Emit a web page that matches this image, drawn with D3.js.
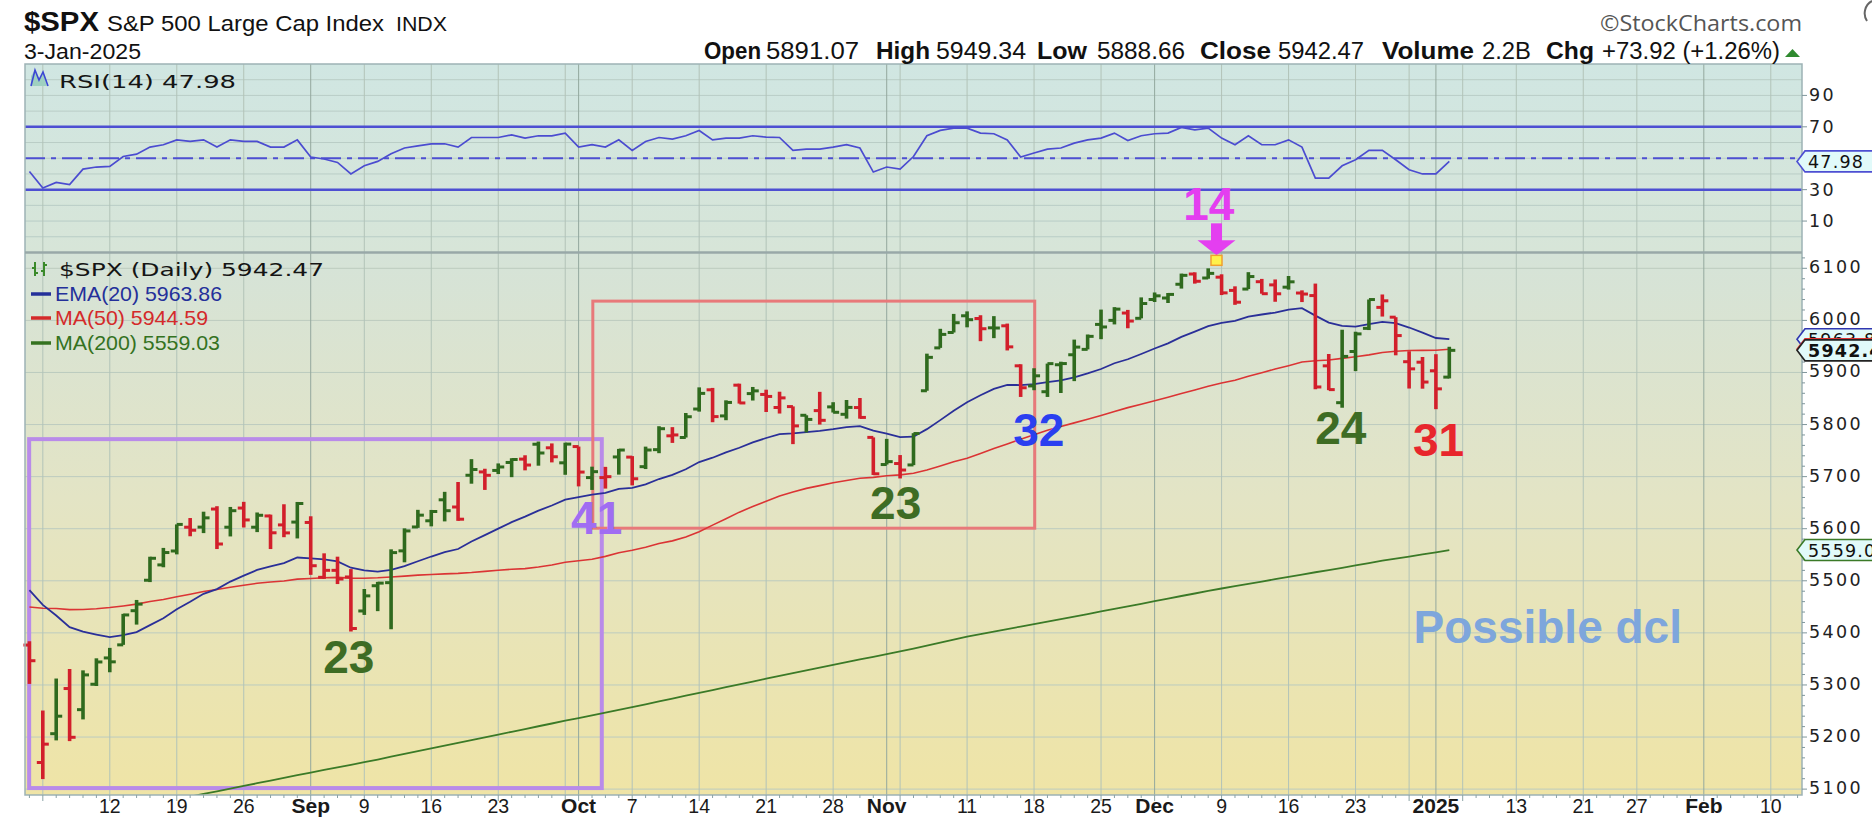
<!DOCTYPE html>
<html>
<head>
<meta charset="utf-8">
<script src="https://cdn.jsdelivr.net/npm/d3@7"></script>
<style>
  body { margin: 0; background: #fff; }
  svg { display: block; }
</style>
</head>
<body>
<svg id="chart" width="1872" height="819"></svg>
<script>
// trading days shown on the axis (bars up to 3-Jan-2025, the rest is empty future space)
var dates = [
  "2024-08-02","2024-08-05","2024-08-06","2024-08-07","2024-08-08","2024-08-09","2024-08-12","2024-08-13","2024-08-14","2024-08-15","2024-08-16",
  "2024-08-19","2024-08-20","2024-08-21","2024-08-22","2024-08-23","2024-08-26","2024-08-27","2024-08-28","2024-08-29","2024-08-30",
  "2024-09-03","2024-09-04","2024-09-05","2024-09-06","2024-09-09","2024-09-10","2024-09-11","2024-09-12","2024-09-13","2024-09-16",
  "2024-09-17","2024-09-18","2024-09-19","2024-09-20","2024-09-23","2024-09-24","2024-09-25","2024-09-26","2024-09-27","2024-09-30",
  "2024-10-01","2024-10-02","2024-10-03","2024-10-04","2024-10-07","2024-10-08","2024-10-09","2024-10-10","2024-10-11","2024-10-14",
  "2024-10-15","2024-10-16","2024-10-17","2024-10-18","2024-10-21","2024-10-22","2024-10-23","2024-10-24","2024-10-25","2024-10-28",
  "2024-10-29","2024-10-30","2024-10-31","2024-11-01","2024-11-04","2024-11-05","2024-11-06","2024-11-07","2024-11-08","2024-11-11",
  "2024-11-12","2024-11-13","2024-11-14","2024-11-15","2024-11-18","2024-11-19","2024-11-20","2024-11-21","2024-11-22","2024-11-25",
  "2024-11-26","2024-11-27","2024-11-29","2024-12-02","2024-12-03","2024-12-04","2024-12-05","2024-12-06","2024-12-09","2024-12-10",
  "2024-12-11","2024-12-12","2024-12-13","2024-12-16","2024-12-17","2024-12-18","2024-12-19","2024-12-20","2024-12-23","2024-12-24",
  "2024-12-26","2024-12-27","2024-12-30","2024-12-31","2025-01-02","2025-01-03",
  "2025-01-06","2025-01-07","2025-01-08","2025-01-10","2025-01-13","2025-01-14","2025-01-15","2025-01-16","2025-01-17","2025-01-21",
  "2025-01-22","2025-01-23","2025-01-24","2025-01-27","2025-01-28","2025-01-29","2025-01-30","2025-01-31","2025-02-03","2025-02-04",
  "2025-02-05","2025-02-06","2025-02-07","2025-02-10","2025-02-11","2025-02-12"];

var open = [
  5376.63,5151.14,5206.42,5293.13,5252.57,5301.36,5351.88,5376.98,5442.59,5501.07,5530.50,5557.23,5602.88,5603.09,5637.77,5602.89,5639.66,5602.89,5624.51,5607.30,5612.74,
  5612.00,5506.68,5520.08,5507.33,5442.07,5490.51,5496.42,5557.48,5603.34,5615.21,5655.51,5641.68,5702.63,5709.04,5711.90,5727.20,5733.65,5762.22,5755.36,5726.52,
  5757.73,5698.19,5698.19,5737.80,5737.50,5719.14,5751.80,5778.36,5775.09,5829.81,5866.74,5816.58,5875.62,5859.43,5857.82,5832.70,5834.50,5817.80,5826.75,5833.93,5819.68,5832.65,5775.34,
  5723.22,5725.15,5722.43,5864.89,5947.21,5976.76,6008.86,6003.60,5985.75,5989.60,5912.79,5874.17,5863.04,5914.83,5934.01,5944.36,5992.28,6000.03,6014.11,6003.98,
  6040.11,6042.97,6069.39,6089.03,6081.38,6083.01,6057.59,6060.15,6074.29,6068.17,6063.79,6052.55,6047.65,5912.71,5842.00,5940.25,5984.73,6024.97,6006.17,5920.67,5919.74,
  5903.26,5891.07];
var high = [
  5383.89,5250.89,5312.34,5330.64,5328.03,5351.15,5371.20,5436.50,5463.22,5546.23,5563.15,5608.30,5620.51,5632.68,5643.22,5641.82,5651.62,5631.18,5627.03,5646.95,5651.37,
  5623.89,5552.74,5546.30,5522.47,5484.20,5497.91,5560.41,5600.71,5636.27,5636.05,5670.81,5689.75,5733.57,5715.14,5725.36,5735.32,5741.03,5767.37,5763.78,5765.14,
  5757.73,5719.14,5718.78,5753.21,5739.40,5757.60,5796.80,5795.03,5822.13,5871.41,5870.36,5846.52,5878.46,5872.17,5866.92,5863.04,5834.85,5817.80,5862.82,5842.92,5847.19,5850.94,5775.34,
  5772.52,5741.43,5783.44,5936.14,5983.84,6012.45,6017.31,6009.92,6008.19,5993.88,5915.79,5908.12,5917.04,5920.67,5963.11,5972.90,6020.75,6025.42,6020.16,6044.17,
  6053.58,6052.64,6089.84,6092.27,6099.97,6088.51,6065.40,6092.59,6079.68,6078.58,6085.19,6057.68,6070.67,5935.52,5982.06,5978.25,6040.10,6049.75,6006.17,5940.79,5929.74,
  5935.09,5949.34];
var low = [
  5302.03,5119.26,5193.56,5192.16,5233.85,5297.94,5324.37,5376.98,5415.89,5497.51,5525.96,5550.74,5585.50,5591.57,5560.95,5585.16,5602.34,5593.48,5560.95,5583.71,5581.33,
  5511.39,5503.66,5493.74,5402.62,5434.49,5441.72,5406.96,5535.50,5601.65,5604.53,5614.05,5615.08,5686.42,5674.49,5704.94,5698.99,5712.06,5721.01,5727.34,5703.53,
  5681.28,5674.44,5677.04,5703.87,5683.20,5714.56,5745.02,5764.76,5775.09,5824.80,5804.48,5808.34,5840.25,5846.11,5824.08,5821.17,5762.41,5784.92,5799.98,5823.08,5811.39,5811.28,5703.22,
  5723.22,5696.51,5722.10,5864.89,5947.21,5976.76,5986.69,5960.08,5965.91,5942.28,5853.01,5865.95,5853.01,5860.58,5883.37,5944.36,5963.91,5992.27,5984.87,6003.98,
  6035.33,6033.39,6061.06,6070.59,6079.98,6048.63,6029.89,6060.15,6051.25,6035.77,6059.14,6035.19,5867.79,5866.07,5832.30,5902.57,5981.44,6007.37,5932.95,5869.16,5868.86,
  5829.53,5888.66];
var close = [
  5346.56,5186.33,5240.03,5199.50,5319.31,5344.16,5344.39,5434.43,5455.21,5543.22,5554.25,5608.25,5597.12,5620.85,5570.64,5634.61,5616.84,5625.80,5592.18,5591.96,5648.40,
  5528.93,5520.07,5503.41,5408.42,5471.05,5495.52,5554.13,5595.76,5626.02,5633.09,5634.58,5618.26,5713.64,5702.55,5718.57,5732.93,5722.26,5745.37,5738.17,5762.48,
  5708.75,5709.54,5699.94,5751.07,5695.94,5751.13,5792.04,5780.05,5815.03,5859.85,5815.26,5842.47,5841.47,5864.67,5853.98,5851.20,5797.42,5809.86,5808.12,5823.52,5832.92,5813.67,5705.45,
  5728.80,5712.69,5782.76,5929.04,5973.10,5995.54,6001.35,5983.99,5985.38,5949.17,5870.62,5893.62,5916.98,5917.11,5948.71,5969.34,5987.37,6021.63,5998.74,6032.38,
  6047.15,6049.88,6086.49,6075.11,6090.27,6052.85,6034.91,6084.19,6051.25,6051.09,6074.08,6050.61,5872.16,5867.08,5930.85,5974.07,6040.04,6037.59,5970.84,5906.94,5881.63,
  5868.55,5942.47];
var prevClose = 5446.68; // 1-Aug, colours the first bar

var ema20 = [
  5482.0,5453.8,5433.4,5411.1,5402.3,5396.8,5391.8,5395.8,5401.4,5414.9,5428.1,5445.2,5459.7,5475.0,5484.1,5498.5,5509.8,5520.9,5527.7,5533.8,5544.7,
  5543.2,5541.0,5537.4,5525.1,5519.9,5517.6,5521.1,5528.2,5537.5,5546.6,5555.0,5561.0,5575.5,5587.6,5600.1,5612.7,5623.1,5634.7,5644.5,5655.7,
  5660.8,5665.5,5668.8,5676.6,5678.4,5685.3,5695.4,5703.5,5714.1,5728.0,5736.3,5746.4,5755.4,5765.8,5774.2,5781.5,5783.0,5785.6,5787.7,5791.1,5795.1,5796.9,5788.2,
  5782.6,5776.0,5776.7,5791.2,5808.5,5826.3,5842.9,5856.3,5868.6,5876.3,5875.8,5877.5,5881.3,5884.7,5890.8,5898.2,5906.7,5917.7,5925.4,5935.5,
  5946.1,5956.0,5968.4,5978.5,5989.1,5995.2,5999.0,6007.1,6011.3,6015.1,6020.7,6023.6,6009.2,5995.7,5989.5,5988.0,5992.9,5997.2,5994.7,5986.3,5976.4,
  5966.2,5963.86];
var ma50 = [
  5449.7,5447.2,5446.7,5444.6,5444.9,5446.4,5448.6,5451.7,5455.2,5460.2,5464.2,5469.3,5474.3,5479.5,5483.4,5487.7,5491.3,5495.2,5497.6,5499.7,5503.2,
  5504.5,5505.9,5506.6,5505.2,5505.0,5505.7,5507.3,5509.0,5510.8,5512.1,5513.3,5514.2,5515.8,5518.1,5520.2,5522.2,5523.3,5526.4,5530.3,5535.5,
  5538.4,5541.4,5546.9,5553.9,5558.7,5564.4,5571.5,5576.7,5584.1,5594.3,5606.9,5619.0,5631.8,5642.7,5652.9,5663.0,5670.3,5677.4,5682.7,5688.1,5692.6,5696.9,5698.6,
  5701.8,5703.3,5706.6,5712.7,5720.3,5728.4,5735.4,5744.5,5753.9,5762.8,5772.0,5780.5,5788.9,5796.2,5803.2,5810.1,5817.2,5824.9,5832.5,5838.9,
  5845.8,5852.4,5859.5,5866.5,5873.4,5879.7,5885.2,5892.7,5899.5,5906.5,5913.0,5920.1,5922.5,5924.0,5927.0,5930.2,5933.8,5938.3,5940.8,5942.1,5942.5,
  5942.8,5944.59];
var ma200 = [
  5023.0,5027.9,5033.2,5038.3,5043.8,5049.0,5054.1,5059.5,5064.6,5069.9,5075.0,5080.4,5085.6,5090.7,5095.6,5100.9,5106.1,5111.3,5116.4,5121.5,5126.9,
  5131.8,5136.8,5141.8,5146.5,5151.6,5156.8,5162.2,5167.6,5172.9,5178.2,5183.5,5188.6,5194.0,5199.4,5204.8,5210.1,5215.3,5220.7,5226.0,5231.4,
  5236.5,5241.7,5246.9,5252.3,5257.4,5262.8,5268.4,5273.8,5279.3,5284.9,5290.2,5295.7,5301.1,5306.6,5312.0,5317.4,5322.5,5327.8,5333.1,5338.5,5343.9,5349.2,5354.1,
  5359.3,5364.4,5369.8,5375.6,5381.4,5387.1,5392.6,5397.7,5402.6,5407.4,5412.0,5416.8,5421.6,5426.4,5431.3,5436.2,5441.1,5446.1,5450.9,5455.9,
  5460.9,5465.8,5470.8,5475.6,5480.5,5485.2,5489.6,5494.2,5498.6,5503.0,5507.6,5512.0,5516.4,5520.6,5525.0,5529.5,5534.1,5538.6,5542.6,5546.6,5550.6,
  5554.7,5559.03];
var rsi14 = [
  41.6,31.1,34.6,33.2,43.1,44.4,44.8,51.1,52.6,57.1,58.6,61.7,60.7,61.7,57.1,61.7,60.7,60.7,57.1,57.1,61.7,
  50.8,49.5,47.3,40.0,45.2,48.0,52.9,56.5,57.9,59.2,59.2,57.1,63.2,63.2,63.2,64.9,62.8,64.3,64.3,66.0,
  57.1,58.6,57.1,61.7,55.0,60.7,63.2,62.2,64.3,67.7,61.7,62.8,62.8,64.3,63.4,63.2,55.0,55.8,55.8,57.1,58.6,56.5,41.2,
  44.4,43.1,51.1,64.3,67.7,69.2,69.2,66.0,65.6,61.7,50.8,53.3,55.8,56.5,59.6,61.7,62.8,66.0,61.3,64.3,
  65.6,66.0,69.6,68.1,69.2,62.8,58.6,64.3,58.6,58.6,61.7,57.1,37.4,37.4,45.2,49.0,55.0,55.0,49.0,42.7,40.0,
  40.0,47.98];

// axis ticks and labels
var gridDates = ["2024-08-05","2024-08-12","2024-08-19","2024-08-26","2024-09-03","2024-09-09","2024-09-16","2024-09-23","2024-09-30",
  "2024-10-01","2024-10-07","2024-10-14","2024-10-21","2024-10-28","2024-11-01","2024-11-04","2024-11-11","2024-11-18","2024-11-25",
  "2024-12-02","2024-12-09","2024-12-16","2024-12-23","2024-12-30","2025-01-02","2025-01-06","2025-01-13","2025-01-21","2025-01-27",
  "2025-02-03","2025-02-10"];
var monthDates = ["2024-09-03","2024-10-01","2024-11-01","2024-12-02","2025-01-02","2025-02-03"];
var labelDates = ["2024-08-12","2024-08-19","2024-08-26","2024-09-03","2024-09-09","2024-09-16","2024-09-23","2024-10-01","2024-10-07",
  "2024-10-14","2024-10-21","2024-10-28","2024-11-01","2024-11-11","2024-11-18","2024-11-25","2024-12-02","2024-12-09","2024-12-16",
  "2024-12-23","2025-01-02","2025-01-13","2025-01-21","2025-01-27","2025-02-03","2025-02-10"];
var labelText = ["12","19","26","Sep","9","16","23","Oct","7","14","21","28","Nov","11","18","25","Dec","9","16","23","2025","13","21","27","Feb","10"];
var boldLabels = ["Sep","Oct","Nov","Dec","2025","Feb"];
var priceTicks = [5100,5200,5300,5400,5500,5600,5700,5800,5900,6000,6100];
var rsiTicks = [10,30,70,90];
var rsiGrid = [0,10,20,30,40,50,60,70,80,90,100];

// header
var symbol = "$SPX", symbolName = "S&P 500 Large Cap Index", exchange = "INDX", quoteDate = "3-Jan-2025";
var quoteLabels = ["Open","High","Low","Close","Volume","Chg"];
var quoteValues = ["5891.07","5949.34","5888.66","5942.47","2.2B","+73.92 (+1.26%)"];

// hand drawn notes on the chart
var noteText  = ["41","23","23","32","24","31","14"];
var noteDay   = [42.35,23.84,64.67,75.35,97.9,105.2,88.05];
var notePrice = [5590,5322,5619,5759,5762,5739,6193];
var noteColor = ["#a06df2","#3e6c24","#3e6c24","#2a3ff0","#3e6c24","#e8262c","#e43ef0"];

var W = 1872, L = 25, R = 1802;
var rsiTop = 64, rsiBot = 252, pTop = 253, pBot = 795;
var green = "#2f6a1e", red = "#d21f2b";
var last = close.length - 1;

var svg = d3.select("#chart");

var x = d3.scalePoint().domain(dates).range([L, R]).padding(0.33);
var xi = function(i) { return x(dates[0]) + i * x.step(); };
var y = d3.scaleLinear().domain([5088.7, 6129.4]).range([pBot, pTop]);
var yr = d3.scaleLinear().domain([-9.7, 110]).range([rsiBot, rsiTop]);

// backgrounds
var defs = svg.append("defs");
var g1 = defs.append("linearGradient").attr("id", "rsiBg").attr("x1", 0).attr("y1", 0).attr("x2", 0).attr("y2", 1);
g1.append("stop").attr("offset", "0%").attr("stop-color", "#d0e6e2");
g1.append("stop").attr("offset", "100%").attr("stop-color", "#d7e5d8");
var g2 = defs.append("linearGradient").attr("id", "priceBg").attr("x1", 0).attr("y1", 0).attr("x2", 0).attr("y2", 1);
g2.append("stop").attr("offset", "0%").attr("stop-color", "#d5e3d8");
g2.append("stop").attr("offset", "45%").attr("stop-color", "#e3e4c5");
g2.append("stop").attr("offset", "100%").attr("stop-color", "#efe4a6");

svg.append("rect").attr("x", L).attr("y", rsiTop).attr("width", R - L).attr("height", rsiBot - rsiTop).attr("fill", "url(#rsiBg)");
svg.append("rect").attr("x", L).attr("y", pTop).attr("width", R - L).attr("height", pBot - pTop).attr("fill", "url(#priceBg)");

// grid
var grid = svg.append("g").attr("fill", "none");
grid.selectAll("line.rg").data(rsiGrid).join("line").attr("class", "rg")
  .attr("x1", L).attr("x2", R).attr("y1", function(d) { return yr(d); }).attr("y2", function(d) { return yr(d); })
  .attr("stroke", "#b9cdc6").attr("stroke-width", 1);
grid.selectAll("line.pg").data(priceTicks).join("line").attr("class", "pg")
  .attr("x1", L).attr("x2", R).attr("y1", function(d) { return y(d); }).attr("y2", function(d) { return y(d); })
  .attr("stroke", "#bccbbf").attr("stroke-width", 1);
grid.selectAll("line.vg").data(gridDates).join("line").attr("class", "vg")
  .attr("x1", function(d) { return x(d); }).attr("x2", function(d) { return x(d); })
  .attr("y1", rsiTop).attr("y2", pBot)
  .attr("stroke", function(d) { return monthDates.indexOf(d) >= 0 ? "#93a89e" : "#b2c3b8"; })
  .attr("stroke-width", 1);

// RSI panel
var rsiG = svg.append("g");
[70, 30].forEach(function(v) {
  rsiG.append("line").attr("x1", L).attr("x2", R).attr("y1", yr(v)).attr("y2", yr(v))
    .attr("stroke", "#4d4fd2").attr("stroke-width", 2.5);
});
rsiG.append("line").attr("x1", L).attr("x2", R).attr("y1", yr(50)).attr("y2", yr(50))
  .attr("stroke", "#4d4fd2").attr("stroke-width", 2).attr("stroke-dasharray", "20,6,5,6");
rsiG.append("path").datum(rsi14)
  .attr("d", d3.line().x(function(d, i) { return x(dates[i]); }).y(function(d) { return yr(d); }))
  .attr("fill", "none").attr("stroke", "#4b4cd0").attr("stroke-width", 1.7);

// boxes drawn by hand
var boxes = svg.append("g").attr("fill", "none");
boxes.append("rect").attr("x", xi(-0.02)).attr("y", y(5772)).attr("width", xi(42.73) - xi(-0.02)).attr("height", y(5102) - y(5772))
  .attr("stroke", "#b98be9").attr("stroke-width", 4);
boxes.append("rect").attr("x", xi(42.06)).attr("y", y(6037)).attr("width", xi(75.05) - xi(42.06)).attr("height", y(5601) - y(6037))
  .attr("stroke", "#e8797a").attr("stroke-width", 3);

// moving averages
var ln = d3.line().x(function(d, i) { return x(dates[i]); }).y(function(d) { return y(d); });
var maG = svg.append("g").attr("fill", "none").attr("clip-path", "url(#pclip)");
defs.append("clipPath").attr("id", "pclip").append("rect").attr("x", L).attr("y", pTop).attr("width", R - L).attr("height", pBot - pTop);
maG.append("path").datum(ma200).attr("d", ln).attr("stroke", "#3b7a27").attr("stroke-width", 1.8);
maG.append("path").datum(ma50).attr("d", ln).attr("stroke", "#db3434").attr("stroke-width", 1.6);
maG.append("path").datum(ema20).attr("d", ln).attr("stroke", "#2a2f98").attr("stroke-width", 1.8);

// OHLC bars
var barG = svg.append("g").selectAll("g").data(close).join("g")
  .attr("stroke", function(d, i) { return d > (i ? close[i - 1] : prevClose) ? green : red; })
  .attr("stroke-width", 3.6);
barG.append("line")
  .attr("x1", function(d, i) { return x(dates[i]); }).attr("x2", function(d, i) { return x(dates[i]); })
  .attr("y1", function(d, i) { return y(high[i]); }).attr("y2", function(d, i) { return y(low[i]); });
barG.append("line").attr("stroke-width", 3)
  .attr("x1", function(d, i) { return x(dates[i]) - 6; }).attr("x2", function(d, i) { return x(dates[i]); })
  .attr("y1", function(d, i) { return y(open[i]); }).attr("y2", function(d, i) { return y(open[i]); });
barG.append("line").attr("stroke-width", 3)
  .attr("x1", function(d, i) { return x(dates[i]); }).attr("x2", function(d, i) { return x(dates[i]) + 6; })
  .attr("y1", function(d) { return y(d); }).attr("y2", function(d) { return y(d); });

// panel frames
var frame = svg.append("g").attr("fill", "none").attr("stroke", "#9db2b5");
frame.append("rect").attr("x", L).attr("y", rsiTop).attr("width", R - L).attr("height", pBot - rsiTop).attr("stroke-width", 1.5);
frame.append("line").attr("x1", L).attr("x2", R).attr("y1", rsiBot + 0.5).attr("y2", rsiBot + 0.5).attr("stroke", "#98a8a8").attr("stroke-width", 2.5);

// x axis
var xa = svg.append("g");
xa.selectAll("line").data(dates).join("line")
  .attr("x1", function(d) { return x(d); }).attr("x2", function(d) { return x(d); })
  .attr("y1", pBot).attr("y2", function(d) { return gridDates.indexOf(d) >= 0 ? pBot + 6 : pBot + 3; })
  .attr("stroke", "#8aa2a6").attr("stroke-width", 1);
xa.selectAll("text").data(labelDates).join("text")
  .attr("x", function(d) { return x(d); }).attr("y", 813)
  .attr("text-anchor", "middle")
  .attr("font-family", "'Liberation Sans', Arial, sans-serif")
  .attr("font-weight", function(d, i) { return boldLabels.indexOf(labelText[i]) >= 0 ? "bold" : "normal"; })
  .attr("font-size", function(d, i) { return boldLabels.indexOf(labelText[i]) >= 0 ? 21 : 19.5; })
  .attr("fill", "#1a1a1a")
  .text(function(d, i) { return labelText[i]; });

// right axes
var ya = svg.append("g").attr("font-family", "'DejaVu Sans', Verdana, sans-serif").attr("font-size", 17.5)
  .attr("letter-spacing", 2.4).attr("fill", "#222");
ya.selectAll("line.mn").data(d3.range(5100, 6121, 20)).join("line").attr("class", "mn")
  .attr("x1", R).attr("x2", function(d) { return d % 100 ? R + 3 : R + 5; })
  .attr("y1", function(d) { return y(d); }).attr("y2", function(d) { return y(d); })
  .attr("stroke", "#7f969b").attr("stroke-width", 1);
ya.selectAll("text.pt").data(priceTicks).join("text").attr("class", "pt")
  .attr("x", R + 7).attr("y", function(d) { return y(d) + 5; }).text(function(d) { return d; });
ya.selectAll("line.rt").data(rsiTicks).join("line").attr("class", "rt")
  .attr("x1", R).attr("x2", R + 5).attr("y1", function(d) { return yr(d); }).attr("y2", function(d) { return yr(d); })
  .attr("stroke", "#7f969b");
ya.selectAll("text.rt").data(rsiTicks).join("text").attr("class", "rt")
  .attr("x", R + 7).attr("y", function(d) { return yr(d) + 6; }).text(function(d) { return d; });

// value tags on the right edge
function tag(yv, txt, stroke, bold) {
  var g = svg.append("g");
  g.append("path")
    .attr("d", "M" + (R - 5) + "," + yv + "L" + (R + 3) + "," + (yv - 10.5) + "H" + (W + 4) + "V" + (yv + 10.5) + "H" + (R + 3) + "Z")
    .attr("fill", "#e1fafa").attr("stroke", stroke).attr("stroke-width", 1.6);
  g.append("text").attr("x", R + 6).attr("y", yv + 6.5).text(txt)
    .attr("font-family", "'DejaVu Sans', Verdana, sans-serif").attr("font-size", 17.5).attr("letter-spacing", 1.2)
    .attr("font-weight", bold ? "bold" : "normal").attr("fill", "#111");
}
tag(yr(rsi14[last]), rsi14[last].toFixed(2), "#4d4fd2", false);
tag(y(ema20[last]), ema20[last].toFixed(2), "#3036b0", false);
tag(y(ma50[last]), ma50[last].toFixed(2), "#d33", false);
tag(y(close[last]), close[last].toFixed(2), "#222", true);
tag(y(ma200[last]), ma200[last].toFixed(2), "#3b7a27", false);

// legends
var lg = svg.append("g");
lg.append("path").attr("d", "M31,86 L31,76 L35,70 L39,80 L43,72 L47,86 Z").attr("fill", "#9fd0c0");
lg.append("path").attr("d", "M31,86 L35,70 L39,80 L43,72 L48,86").attr("fill", "none").attr("stroke", "#3b46d4").attr("stroke-width", 1.6);
lg.append("text").attr("x", 59).attr("y", 88).attr("textLength", 177).attr("lengthAdjust", "spacingAndGlyphs")
  .attr("font-family", "'DejaVu Sans', Verdana, sans-serif").attr("font-size", 18).attr("fill", "#151515")
  .text("RSI(14) " + rsi14[last].toFixed(2));

lg.append("path").attr("d", "M35,262 V276 M32,268 H35 M35,273 H38 M44,262 V276 M41,271 H44 M44,265 H47")
  .attr("stroke", "#3a8a2a").attr("stroke-width", 2).attr("fill", "none");
lg.append("text").attr("x", 59).attr("y", 276).attr("textLength", 265).attr("lengthAdjust", "spacingAndGlyphs")
  .attr("font-family", "'DejaVu Sans', Verdana, sans-serif").attr("font-size", 18).attr("fill", "#151515")
  .text(symbol + " (Daily) " + close[last].toFixed(2));

var maLeg = [["EMA(20) " + ema20[last].toFixed(2), "#24309a", 301, 167],
             ["MA(50) " + ma50[last].toFixed(2), "#d42a2a", 325, 153],
             ["MA(200) " + ma200[last].toFixed(2), "#34721f", 350, 165]];
maLeg.forEach(function(m) {
  lg.append("line").attr("x1", 31).attr("x2", 51).attr("y1", m[2] - 7).attr("y2", m[2] - 7).attr("stroke", m[1]).attr("stroke-width", 3.5);
  lg.append("text").attr("x", 55).attr("y", m[2]).attr("textLength", m[3]).attr("lengthAdjust", "spacingAndGlyphs")
    .attr("font-family", "'Liberation Sans', Arial, sans-serif").attr("font-size", 21).attr("fill", m[1]).text(m[0]);
});

// notes
var nt = svg.append("g").attr("font-family", "'Liberation Sans', Arial, sans-serif").attr("font-weight", "bold").attr("font-size", 46);
nt.selectAll("text").data(noteText).join("text")
  .attr("x", function(d, i) { return xi(noteDay[i]); }).attr("y", function(d, i) { return y(notePrice[i]); })
  .attr("text-anchor", "middle").attr("fill", function(d, i) { return noteColor[i]; }).text(function(d) { return d; });
nt.append("text").attr("x", xi(113.35)).attr("y", y(5381)).attr("text-anchor", "middle").attr("fill", "#7ea6dc").text("Possible dcl");

// arrow to the 6-Dec high
var ax = xi(88.62), ay = y(high[88]);
var arr = svg.append("g");
arr.append("rect").attr("x", ax - 5.5).attr("y", ay - 45).attr("width", 11).attr("height", 18).attr("fill", "#e43ef0");
arr.append("path").attr("d", "M" + (ax - 19) + "," + (ay - 28) + "H" + (ax + 19) + "L" + ax + "," + (ay - 13) + "Z").attr("fill", "#e43ef0");
arr.append("rect").attr("x", ax - 5.5).attr("y", ay - 13).attr("width", 11).attr("height", 10)
  .attr("fill", "#fff14a").attr("stroke", "#f0a030").attr("stroke-width", 1.5);

// header
var hd = svg.append("g").attr("font-family", "'Liberation Sans', Arial, sans-serif").attr("fill", "#111");
hd.append("text").attr("x", 24).attr("y", 31).attr("font-size", 27).attr("font-weight", "bold")
  .attr("textLength", 75).attr("lengthAdjust", "spacingAndGlyphs").text(symbol);
hd.append("text").attr("x", 107).attr("y", 31).attr("font-size", 22)
  .attr("textLength", 277).attr("lengthAdjust", "spacingAndGlyphs").text(symbolName);
hd.append("text").attr("x", 396).attr("y", 31).attr("font-size", 21)
  .attr("textLength", 51).attr("lengthAdjust", "spacingAndGlyphs").text(exchange);
hd.append("text").attr("x", 24).attr("y", 59).attr("font-size", 22)
  .attr("textLength", 117).attr("lengthAdjust", "spacingAndGlyphs").text(quoteDate);

var qLabX = [704, 876, 1037, 1200, 1382, 1546], qLabW = [57, 54, 50, 71, 92, 48];
var qValX = [766, 936, 1097, 1278, 1482, 1602], qValW = [93, 90, 88, 86, 49, 178];
quoteLabels.forEach(function(t, i) {
  hd.append("text").attr("x", qLabX[i]).attr("y", 59).attr("font-size", 23).attr("font-weight", "bold")
    .attr("textLength", qLabW[i]).attr("lengthAdjust", "spacingAndGlyphs").text(t);
  hd.append("text").attr("x", qValX[i]).attr("y", 59).attr("font-size", 23)
    .attr("textLength", qValW[i]).attr("lengthAdjust", "spacingAndGlyphs").text(quoteValues[i]);
});
hd.append("path").attr("d", "M1785,57 L1792.5,49 L1800,57 Z").attr("fill", "#2f8a2f");
hd.append("text").attr("x", 1600).attr("y", 31).attr("font-family", "'Open Sans', 'DejaVu Sans', sans-serif")
  .attr("font-size", 21).attr("fill", "#555").attr("textLength", 202).attr("lengthAdjust", "spacingAndGlyphs")
  .text("\u00a9StockCharts.com");
svg.append("path").attr("d", "M1872,1 A14,14 0 0 0 1867,21").attr("fill", "none").attr("stroke", "#666").attr("stroke-width", 2);
</script>
</body>
</html>
